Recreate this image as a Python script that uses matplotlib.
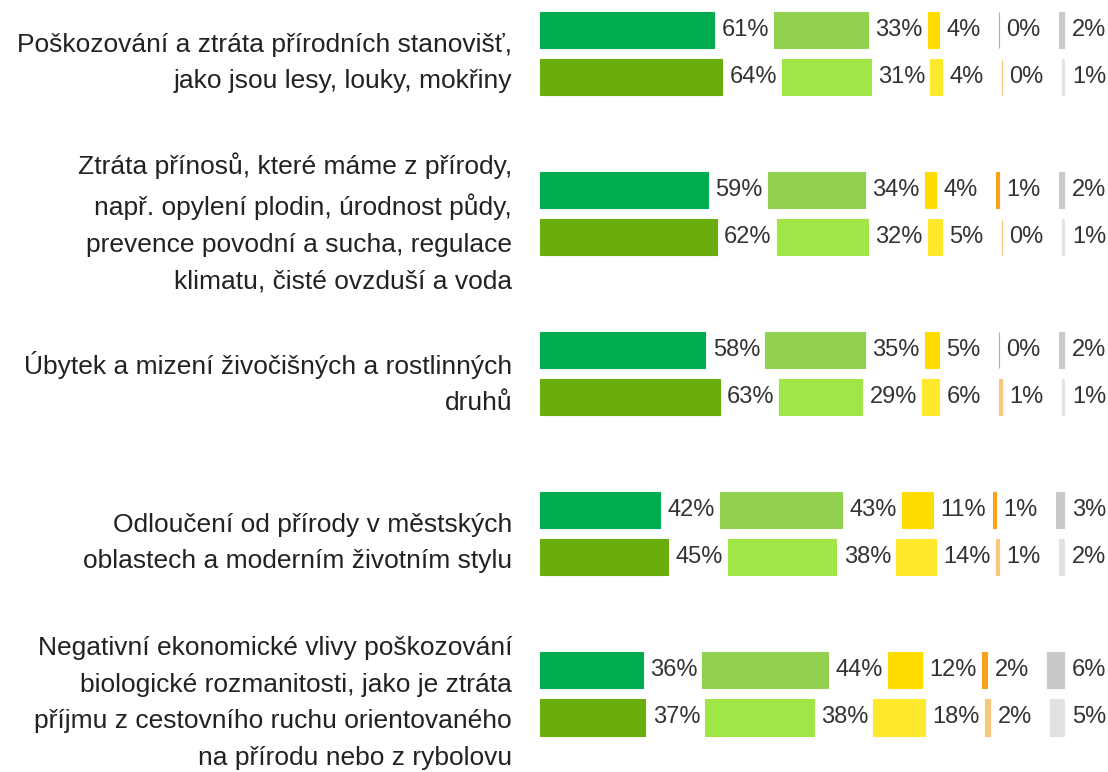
import matplotlib
matplotlib.use("Agg")
from matplotlib import pyplot as plt

plt.rcParams['font.family'] = ['Liberation Sans', 'DejaVu Sans']

# category labels (top to bottom)
categories = [
    "Poškozování a ztráta přírodních stanovišť,\njako jsou lesy, louky, mokřiny",
    "Ztráta přínosů, které máme z přírody,\nnapř. opylení plodin, úrodnost půdy,\nprevence povodní a sucha, regulace\nklimatu, čisté ovzduší a voda",
    "Úbytek a mizení živočišných a rostlinných\ndruhů",
    "Odloučení od přírody v městských\noblastech a moderním životním stylu",
    "Negativní ekonomické vlivy poškozování\nbiologické rozmanitosti, jako je ztráta\npříjmu z cestovního ruchu orientovaného\nna přírodu nebo z rybolovu",
]

# upper bar of each pair
row1 = [
    [61, 33, 4, 0, 2],
    [59, 34, 4, 1, 2],
    [58, 35, 5, 0, 2],
    [42, 43, 11, 1, 3],
    [36, 44, 12, 2, 6],
]
# lower bar of each pair
row2 = [
    [64, 31, 4, 0, 1],
    [62, 32, 5, 0, 1],
    [63, 29, 6, 1, 1],
    [45, 38, 14, 1, 2],
    [37, 38, 18, 2, 5],
]

colors1 = ['#00ac4f', '#92d050', '#ffdc00', '#f7a21b', '#c8c9cb']
colors2 = ['#6aae0e', '#a0e646', '#ffe92c', '#f9c77c', '#e2e2e2']

gap = 21        # space left for the value label after each segment
off = 0.147     # half distance between the two bars of a pair
bar_h = 0.23

fig = plt.figure(figsize=(11.08, 7.72), dpi=100)
ax = fig.add_axes([540 / 1108, 0, 568 / 1108, 1])

def draw_row(y, vals, cols):
    left = 0
    for v, c in zip(vals, cols):
        ax.barh(y, v, left=left, height=bar_h, color=c, edgecolor=c,
                linewidth=0.8)
        ax.text(left + v + 2.6, y, f"{v}%", va='center', ha='left',
                fontsize=17, color='#333333')
        left += v + gap

for i, cat in enumerate(categories):
    draw_row(i - off, row1[i], colors1)
    draw_row(i + off, row2[i], colors2)
    ax.text(-9.8, i + 0.06, cat, ha='right', va='center', fontsize=19,
            color='#222222', linespacing=1.66, clip_on=False)

ax.set_xlim(0, 568 / 2.85)
ax.set_ylim(4.49, -0.334)
ax.axis('off')

fig.savefig("out.png", dpi=100)
